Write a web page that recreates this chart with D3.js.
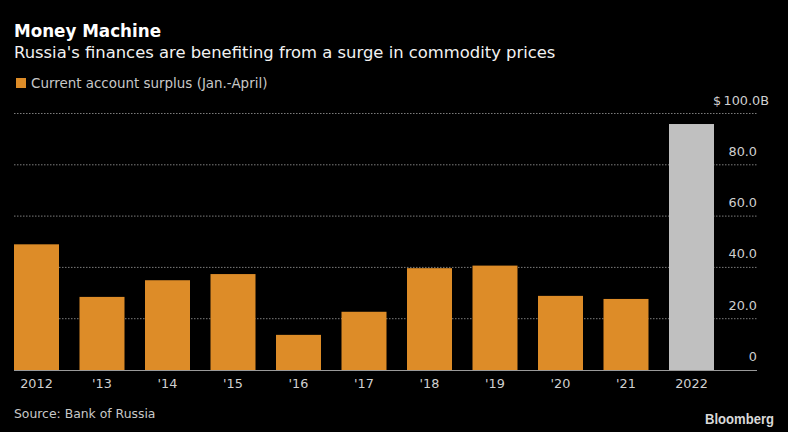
<!DOCTYPE html>
<html>
<head>
<meta charset="utf-8">
<script src="https://cdn.jsdelivr.net/npm/d3@7"></script>
<style>
  html, body { margin: 0; padding: 0; background: #000; }
  svg { display: block; font-family: "DejaVu Sans", sans-serif; }
  text { font-family: "DejaVu Sans", sans-serif; }
</style>
</head>
<body>
<svg id="chart" width="788" height="432"></svg>
<script>
const years = ["2012", "'13", "'14", "'15", "'16", "'17", "'18", "'19", "'20", "'21", "2022"];
const surplus = [49.0, 28.5, 35.0, 37.4, 13.7, 22.7, 39.7, 40.7, 28.9, 27.7, 95.9];
const yTicks = [0, 20, 40, 60, 80, 100];

const ORANGE = "#dd8c28";
const GREY = "#c0c0c0";

const svg = d3.select("#chart");
svg.append("rect").attr("width", 788).attr("height", 432).attr("fill", "#000");

// plot area
let leftX = 14;
let barsRightX = 714;
let gridRightX = 757;
let baseY = 370;
let topY = 113.5;

let xScale = d3.scaleBand()
  .domain(years)
  .range([leftX, barsRightX])
  .paddingInner(0.313)
  .paddingOuter(0);

let yScale = d3.scaleLinear()
  .domain([0, 100])
  .range([baseY, topY]);

// gridlines
svg.append("g")
  .selectAll("line")
  .data(yTicks.filter(d => d > 0))
  .enter()
  .append("line")
  .attr("x1", leftX)
  .attr("x2", gridRightX)
  .attr("y1", d => yScale(d))
  .attr("y2", d => yScale(d))
  .attr("stroke", "#7c7c7c")
  .attr("stroke-width", 1)
  .attr("stroke-dasharray", "1.5,1.5");

// bars
svg.append("g")
  .selectAll("rect")
  .data(surplus)
  .enter()
  .append("rect")
  .attr("x", (d, i) => xScale(years[i]))
  .attr("y", d => yScale(d))
  .attr("width", xScale.bandwidth())
  .attr("height", d => baseY - yScale(d))
  .attr("fill", (d, i) => years[i] == "2022" ? GREY : ORANGE);

// baseline
svg.append("line")
  .attr("x1", leftX)
  .attr("x2", gridRightX)
  .attr("y1", baseY + 0.5)
  .attr("y2", baseY + 0.5)
  .attr("stroke", "#9a9a9a")
  .attr("stroke-width", 1.2);

// x axis
let xAxis = d3.axisBottom(xScale).tickSize(0).tickPadding(8.5);
let xg = svg.append("g")
  .attr("transform", `translate(0, ${baseY})`)
  .call(xAxis);
xg.select(".domain").remove();
xg.selectAll("text")
  .attr("fill", "#d0d0d0")
  .style("font-size", "12.8px");

// y axis, labels sit over the right end of the grid
let yAxis = d3.axisRight(yScale)
  .tickValues(yTicks)
  .tickSize(0)
  .tickPadding(0)
  .tickFormat(d => d == 0 ? "0" : d == 100 ? "$\u2009100.0B" : d.toFixed(1));
let yg = svg.append("g")
  .attr("transform", `translate(${gridRightX}, 0)`)
  .call(yAxis);
yg.select(".domain").remove();
yg.selectAll("text")
  // the top label hangs past the grid
  .attr("x", d => d == 100 ? 12 : 0)
  .attr("dy", -9.5)
  .attr("text-anchor", "end")
  .attr("fill", "#d0d0d0")
  .style("font-size", "12.8px");

// titles
svg.append("text").attr("x", 14).attr("y", 37)
  .attr("fill", "#fff").attr("font-weight", "bold").style("font-size", "17.5px")
  .attr("textLength", 147).attr("lengthAdjust", "spacingAndGlyphs")
  .text("Money Machine");
svg.append("text").attr("x", 14).attr("y", 58)
  .attr("fill", "#f2f2f2").style("font-size", "16.4px")
  .text("Russia's finances are benefiting from a surge in commodity prices");

// legend
svg.append("rect").attr("x", 16).attr("y", 78).attr("width", 10).attr("height", 10).attr("fill", ORANGE);
svg.append("text").attr("x", 31).attr("y", 88)
  .attr("fill", "#c8c8c8").style("font-size", "13.45px")
  .text("Current account surplus (Jan.-April)");

// footer
svg.append("text").attr("x", 14).attr("y", 418)
  .attr("fill", "#c8c8c8").style("font-size", "12.4px")
  .text("Source: Bank of Russia");
svg.append("text").attr("x", 705).attr("y", 424)
  .attr("fill", "#d8d8d8").attr("font-weight", "bold")
  .attr("textLength", 69).attr("lengthAdjust", "spacingAndGlyphs")
  .style("font-family", "'Liberation Sans', sans-serif").style("font-size", "14.5px")
  .text("Bloomberg");
</script>
</body>
</html>
